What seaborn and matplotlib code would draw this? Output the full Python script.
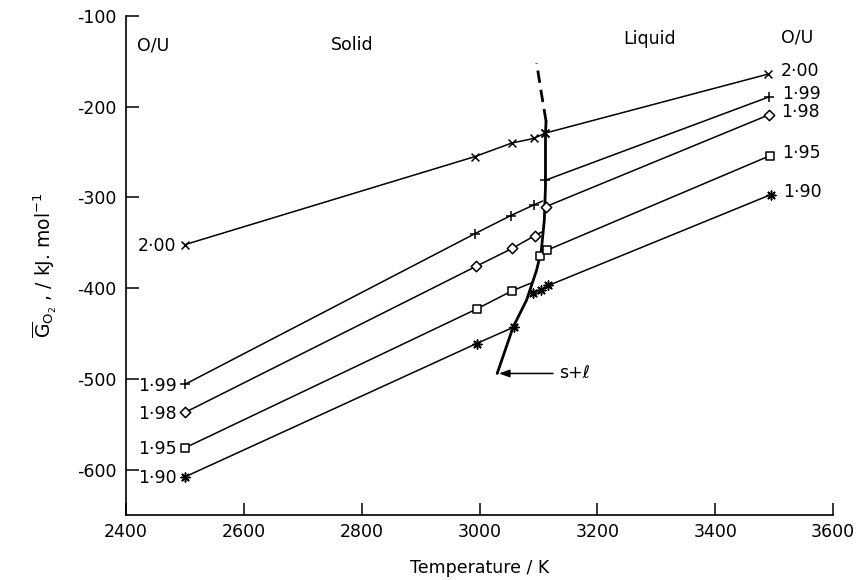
import numpy as np
import pandas as pd
import matplotlib
matplotlib.use("Agg")
import matplotlib.pyplot as plt
import seaborn as sns

# ---------------- data ----------------
ou_labels = ["2·00", "1·99", "1·98", "1·95", "1·90"]
ou_markers = ["x", "+", "D", "s", (8, 2, 0)]

# solid-region measured points (markers)
solid_T = [[2500, 2992, 3055, 3092, 3112],
           [2500, 2992, 3053, 3093],
           [2500, 2994, 3056, 3094],
           [2500, 2995, 3055],
           [2500, 2995, 3058]]
solid_G = [[-352, -255, -240, -235, -229],
           [-506, -340, -320, -308],
           [-537, -376, -356, -342],
           [-576, -423, -403],
           [-608, -461, -443]]
# where each solid line meets the s+l boundary (no marker)
solid_end_T = [3112, 3107, 3106, 3089, 3058]
solid_end_G = [-229, -304, -338, -394, -443]

# liquid-region measured points (markers)
liquid_T = [[3112, 3490],
            [3112, 3492],
            [3113, 3491],
            [3103, 3115, 3493],
            [3091, 3105, 3117, 3494]]
liquid_G = [[-229, -164],
            [-281, -189],
            [-310, -209],
            [-365, -358, -254],
            [-405, -402, -397, -297]]

# s+l boundary curve
curve_T = [3030, 3057, 3080, 3097, 3105, 3110, 3112, 3112, 3113]
curve_G = [-494, -443, -413, -380, -358, -325, -288, -229, -216]
curve_dash_T = [3113, 3105, 3097]
curve_dash_G = [-216, -185, -152]

x_ticks = [2400, 2600, 2800, 3000, 3200, 3400, 3600]
y_ticks = [-100, -200, -300, -400, -500, -600]

# ---------------- plotting ----------------
sns.set_theme(style="ticks")
plt.rcParams["font.family"] = ["DejaVu Sans"]
plt.rcParams["axes.unicode_minus"] = False
plt.rcParams["mathtext.fontset"] = "dejavusans"
plt.rcParams["text.color"] = "black"
plt.rcParams["axes.labelcolor"] = "black"
plt.rcParams["xtick.color"] = "black"
plt.rcParams["ytick.color"] = "black"

FS = 12.5
fig = plt.figure(figsize=(8.61, 5.80), dpi=100)
ax = fig.add_axes([126 / 861, 1 - 515 / 580, (833 - 126) / 861, (515 - 16) / 580])

msize = {"x": 32, "+": 48, "D": 28, "s": 28, (8, 2, 0): 42}

for i, lab in enumerate(ou_labels):
    mk = ou_markers[i]
    line_T = solid_T[i] + [solid_end_T[i]]
    line_G = solid_G[i] + [solid_end_G[i]]
    sns.lineplot(x=line_T, y=line_G, ax=ax, sort=False, estimator=None,
                 color="black", linewidth=1.1)
    sns.lineplot(x=liquid_T[i], y=liquid_G[i], ax=ax, sort=False, estimator=None,
                 color="black", linewidth=1.1)
    pts = pd.DataFrame({"T": solid_T[i] + liquid_T[i], "G": solid_G[i] + liquid_G[i]})
    if mk in ("D", "s"):
        sns.scatterplot(data=pts, x="T", y="G", ax=ax, marker=mk, s=msize[mk],
                        facecolor="white", edgecolor="black", linewidth=1.1, zorder=5)
    else:
        sns.scatterplot(data=pts, x="T", y="G", ax=ax, marker=mk, s=msize[mk],
                        color="black", linewidth=1.1, zorder=5)
    ax.annotate(lab, xy=(solid_T[i][0], solid_G[i][0]), xytext=(-6, -1),
                textcoords="offset points", ha="right", va="center", fontsize=FS,
                color="black")
    ax.annotate(lab, xy=(liquid_T[i][-1], liquid_G[i][-1]), xytext=(9, 2),
                textcoords="offset points", ha="left", va="center", fontsize=FS,
                color="black")

# s+l boundary
sns.lineplot(x=curve_T, y=curve_G, ax=ax, sort=False, estimator=None,
             color="black", linewidth=2.0)
sns.lineplot(x=curve_dash_T, y=curve_dash_G, ax=ax, sort=False, estimator=None,
             color="black", linewidth=2.0, linestyle=(0, (4.5, 2.5)))

ax.annotate("s+ℓ", xy=(curve_T[0] + 3, curve_G[0]), xytext=(3135, curve_G[0]),
            ha="left", va="center", fontsize=FS, color="black",
            arrowprops=dict(arrowstyle="-|>,head_length=0.5,head_width=0.18",
                            color="black", lw=1.1, shrinkA=2, shrinkB=0))

# region texts
ax.text(2419, -132, "O/U", ha="left", va="center", fontsize=FS, color="black")
ax.text(2784, -132, "Solid", ha="center", va="center", fontsize=FS, color="black")
ax.text(3289, -125, "Liquid", ha="center", va="center", fontsize=FS, color="black")
ax.text(3539, -124, "O/U", ha="center", va="center", fontsize=FS, color="black")

ax.set_xlim(2400, 3600)
ax.set_ylim(-650, -100)
ax.set_xticks(x_ticks)
ax.set_yticks(y_ticks)
ax.set_xticklabels([str(t) for t in x_ticks])
ax.set_yticklabels([str(t) for t in y_ticks])
ax.tick_params(direction="in", length=9, width=1.1, labelsize=FS,
               colors="black", labelcolor="black")
ax.tick_params(axis="x", pad=6)
ax.tick_params(axis="y", pad=7)
sns.despine(ax=ax)
for s in ("left", "bottom"):
    ax.spines[s].set_linewidth(1.2)
    ax.spines[s].set_color("black")

ax.set_xlabel("Temperature / K", fontsize=FS, labelpad=13, color="black")
ax.set_ylabel(r"$\overline{\mathrm{G}}_{\mathrm{O_2}}$ , / kJ. mol$^{-1}$",
              fontsize=13.5, labelpad=13, color="black")

fig.savefig("out.png", dpi=100, facecolor="white")
